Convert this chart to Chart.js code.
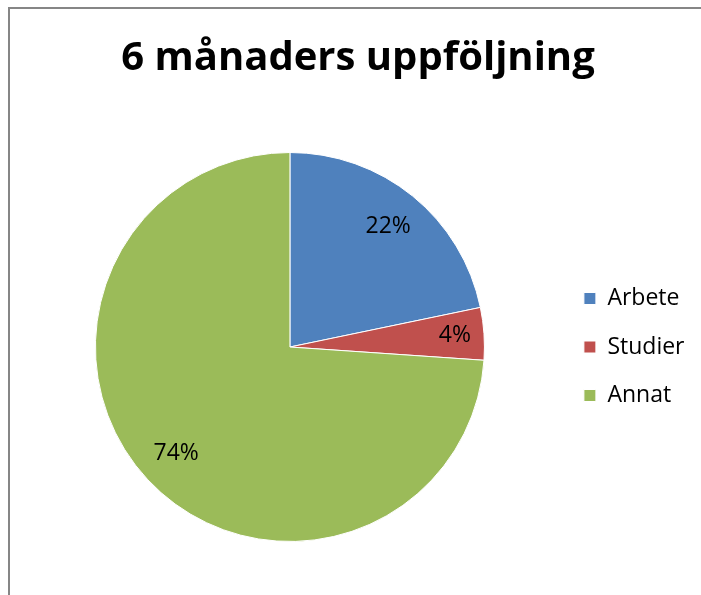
<!DOCTYPE html>
<html>
<head>
<meta charset="utf-8">
<script src="https://cdn.jsdelivr.net/npm/chart.js@4/dist/chart.umd.min.js"></script>
<style>
  html, body { margin: 0; padding: 0; background: #fff; }
  body { width: 701px; height: 595px; position: relative; overflow: hidden; }
  #frame {
    position: absolute; left: 8px; top: 7px; width: 700px; height: 600px;
    border-left: 2px solid #868686; border-top: 2px solid #868686;
  }
  #wrap { position: absolute; left: 10px; top: 9px; width: 691px; height: 586px; }
</style>
</head>
<body>
<div id="frame"></div>
<div id="wrap"><canvas id="pie"></canvas></div>
<script>
const TITLE = '6 månaders uppföljning';
const CATEGORIES = ['Arbete', 'Studier', 'Annat'];
const COUNTS = [5, 1, 17];
const COLORS = ['#4F81BD', '#C0504D', '#9BBB59'];
const FONT = "'Open Sans', 'Noto Sans', sans-serif";

// percentage labels inside the slices, like the spreadsheet data labels
const sliceLabels = {
  id: 'sliceLabels',
  afterDatasetsDraw(chart) {
    const { ctx } = chart;
    const meta = chart.getDatasetMeta(0);
    const total = COUNTS.reduce((a, b) => a + b, 0);
    ctx.save();
    ctx.fillStyle = '#000';
    ctx.font = `23px ${FONT}`;
    ctx.textAlign = 'center';
    ctx.textBaseline = 'middle';
    meta.data.forEach((arc, i) => {
      const { x, y, startAngle, endAngle, outerRadius } = arc.getProps(['x', 'y', 'startAngle', 'endAngle', 'outerRadius'], true);
      const mid = (startAngle + endAngle) / 2;
      // thin slices get their label pushed a bit further out
      const r = outerRadius * (endAngle - startAngle < 0.5 ? 0.85 : 0.8);
      const pct = Math.round(COUNTS[i] / total * 100) + '%';
      ctx.fillText(pct, x + Math.cos(mid) * r, y + Math.sin(mid) * r);
    });
    ctx.restore();
  }
};

new Chart(document.getElementById('pie'), {
  type: 'pie',
  data: {
    labels: CATEGORIES,
    datasets: [{
      data: COUNTS,
      backgroundColor: COLORS,
      borderColor: '#ffffff',
      borderWidth: 1
    }]
  },
  options: {
    responsive: true,
    maintainAspectRatio: false,
    animation: false,
    layout: { padding: { left: 11.5, right: 6.5, top: 0, bottom: 53 } },
    plugins: {
      title: {
        display: true,
        text: TITLE,
        color: '#000',
        font: { family: FONT, size: 40, weight: 'bold' },
        padding: { top: 26, bottom: 69 }
      },
      legend: {
        position: 'right',
        fullSize: false,
        labels: {
          color: '#000',
          boxWidth: 12,
          boxHeight: 12,
          padding: 25.5,
          font: { family: FONT, size: 23 }
        }
      },
      tooltip: { enabled: false }
    }
  },
  plugins: [sliceLabels]
});
</script>
</body>
</html>
